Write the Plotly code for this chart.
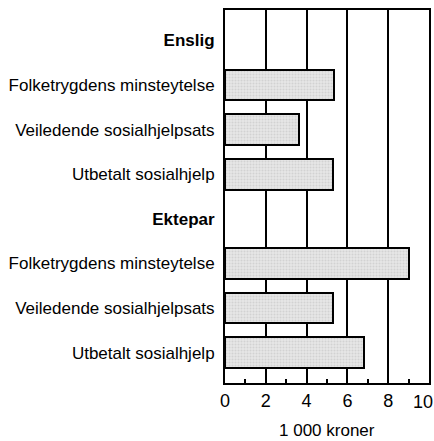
import plotly.graph_objects as go

labels = ["<b>Enslig</b>", "Folketrygdens minsteytelse", "Veiledende sosialhjelpsats",
          "Utbetalt sosialhjelp", "<b>Ektepar</b>", "Folketrygdens minsteytelse",
          "Veiledende sosialhjelpsats", "Utbetalt sosialhjelp"]
values = [None, 5.33, 3.65, 5.3, None, 9.0, 5.3, 6.8]
rows = list(range(len(labels)))
x_ticks = [0, 2, 4, 6, 8, 10]
x_tick_labels = ["0", "2", "4", "6", "8", "10"]
x_minor = [1, 3, 5, 7, 9]

FONT = "Liberation Sans Narrow, Arial Narrow, Liberation Sans, Arial, sans-serif"

fig = go.Figure()
fig.add_trace(go.Bar(
    x=values, y=rows, orientation="h", width=0.69,
    marker=dict(color="#e2e2e2", line=dict(color="black", width=2),
                pattern=dict(shape=".", fgcolor="#bdbdbd", bgcolor="#e6e6e6",
                             size=3, solidity=0.35)),
    hoverinfo="skip",
))

fig.update_layout(
    width=434, height=441,
    margin=dict(l=225, r=5, t=10, b=58),
    paper_bgcolor="white", plot_bgcolor="white",
    showlegend=False,
    font=dict(family=FONT, color="black", size=17),
    bargap=0,
)
# last tick label is drawn as an annotation so it can sit flush with the right edge
fig.update_xaxes(
    range=[0, 10], tickvals=x_ticks, ticktext=x_tick_labels[:-1] + [""],
    showgrid=True, gridcolor="black", gridwidth=1.6,
    showline=True, linecolor="black", linewidth=2, mirror=True,
    ticks="", zeroline=False, automargin=False,
    ticklabeloverflow="allow", ticklabelstandoff=0,
    tickfont=dict(size=18),
    minor=dict(tickvals=x_minor, ticks="inside", ticklen=4, tickwidth=1.5,
               tickcolor="black", showgrid=False),
)
fig.update_yaxes(
    range=[7.68, -0.68], tickvals=rows, ticktext=labels,
    showgrid=False, zeroline=False, automargin=False,
    showline=True, linecolor="black", linewidth=2, mirror=True,
    ticks="", ticklabelstandoff=5,
    tickfont=dict(size=17),
)
fig.add_annotation(
    text=x_tick_labels[-1], xref="x", yref="paper", x=x_ticks[-1], y=0,
    xanchor="right", yanchor="top", xshift=5, yshift=-8, showarrow=False,
    font=dict(size=18, family=FONT, color="black"), borderpad=0,
)
fig.add_annotation(
    text="1 000 kroner", xref="paper", yref="paper", x=0.5, y=0,
    xanchor="center", yanchor="top", yshift=-36, showarrow=False,
    font=dict(size=17, family=FONT, color="black"),
)

fig.write_html(
    "out.html",
    config={"displayModeBar": False},
    post_script="document.body.style.margin='0';document.body.style.overflow='hidden';",
)
